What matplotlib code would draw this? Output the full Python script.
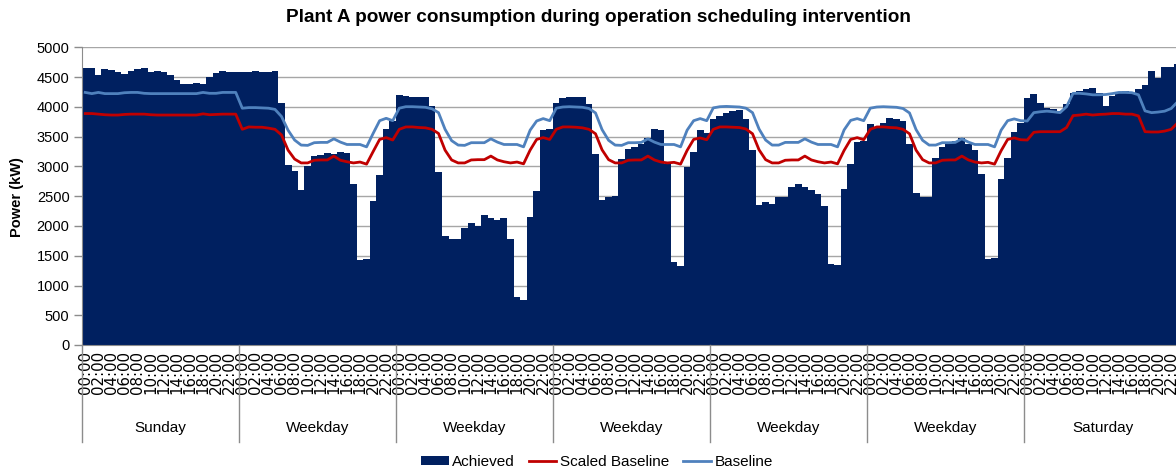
import numpy as np
import matplotlib
matplotlib.use("Agg")
import matplotlib.pyplot as plt
from matplotlib.patches import Patch
from matplotlib.lines import Line2D
import matplotlib.transforms as mtransforms

plt.rcParams['font.family'] = ['Liberation Sans', 'DejaVu Sans']

# ---------------- data ----------------
day_names = ["Sunday", "Weekday", "Weekday", "Weekday", "Weekday", "Weekday", "Saturday"]
hour_labels = ["00:00", "02:00", "04:00", "06:00", "08:00", "10:00",
               "12:00", "14:00", "16:00", "18:00", "20:00", "22:00"]

achieved_sun = [4650, 4650, 4545, 4635, 4615, 4585, 4560, 4610, 4635, 4650, 4590, 4610,
                4590, 4535, 4455, 4385, 4385, 4400, 4385, 4500, 4575, 4600, 4590, 4585]
achieved_wd1 = [4585, 4590, 4600, 4590, 4585, 4600, 4075, 3020, 2920, 2605, 3010, 3180,
                3200, 3230, 3210, 3245, 3230, 2700, 1430, 1450, 2425, 2855, 3630, 3765]
achieved_wd2 = [4200, 4190, 4175, 4165, 4165, 4015, 2910, 1830, 1780, 1780, 1965, 2055,
                2000, 2190, 2135, 2105, 2135, 1780, 800, 755, 2150, 2590, 3620, 3630]
achieved_wd3 = [4075, 4145, 4175, 4175, 4175, 4050, 3215, 2435, 2480, 2510, 3130, 3295,
                3320, 3375, 3485, 3630, 3615, 3050, 1390, 1330, 2995, 3240, 3610, 3560]
achieved_wd4 = [3805, 3855, 3905, 3940, 3950, 3805, 3280, 2355, 2395, 2365, 2480, 2480,
                2655, 2700, 2655, 2600, 2545, 2335, 1365, 1345, 2625, 3035, 3420, 3425]
achieved_wd5 = [3710, 3650, 3735, 3810, 3790, 3765, 3370, 2555, 2490, 2490, 3135, 3320,
                3390, 3425, 3485, 3375, 3275, 2870, 1450, 1465, 2785, 3145, 3585, 3725]
achieved_sat = [4145, 4220, 4075, 3990, 3965, 3940, 4045, 4240, 4270, 4300, 4315, 4230,
                4020, 4190, 4240, 4275, 4240, 4300, 4365, 4610, 4480, 4670, 4670, 4715]

baseline_sun = [4245, 4225, 4245, 4225, 4225, 4225, 4240, 4245, 4245, 4230, 4225, 4225,
                4225, 4225, 4225, 4225, 4225, 4225, 4245, 4230, 4230, 4245, 4245, 4245]
baseline_wd1 = [3980, 3990, 3990, 3985, 3980, 3960, 3840, 3610, 3445, 3360, 3355, 3400,
                3405, 3405, 3465, 3410, 3370, 3370, 3370, 3330, 3555, 3770, 3810, 3770]
baseline_wd2 = [3980, 4005, 4005, 4000, 3995, 3970, 3905, 3625, 3435, 3360, 3355, 3400,
                3400, 3400, 3465, 3410, 3370, 3370, 3370, 3330, 3610, 3765, 3805, 3770]
baseline_wd3 = [3980, 4000, 4005, 4000, 3995, 3975, 3900, 3620, 3440, 3360, 3355, 3400,
                3400, 3405, 3465, 3410, 3370, 3370, 3370, 3330, 3610, 3770, 3805, 3770]
baseline_wd4 = [3985, 4005, 4010, 4005, 4000, 3980, 3905, 3630, 3445, 3360, 3360, 3405,
                3405, 3405, 3465, 3410, 3370, 3370, 3370, 3330, 3615, 3775, 3805, 3770]
baseline_wd5 = [3980, 4000, 4005, 4000, 3995, 3975, 3900, 3620, 3440, 3360, 3360, 3400,
                3400, 3405, 3465, 3410, 3370, 3370, 3370, 3330, 3610, 3770, 3800, 3770]
baseline_sat = [3765, 3905, 3920, 3930, 3920, 3905, 4005, 4230, 4230, 4220, 4205, 4205,
                4210, 4225, 4245, 4245, 4240, 4205, 3935, 3905, 3915, 3930, 3975, 4090]

scaled_sun = [3890, 3890, 3880, 3870, 3865, 3865, 3875, 3880, 3880, 3880, 3870, 3865,
              3865, 3865, 3865, 3865, 3865, 3865, 3885, 3870, 3875, 3880, 3880, 3880]
scaled_wd1 = [3625, 3665, 3660, 3660, 3645, 3625, 3530, 3275, 3125, 3060, 3060, 3105,
              3110, 3110, 3175, 3105, 3080, 3060, 3075, 3040, 3250, 3455, 3485, 3445]
scaled_wd2 = [3625, 3665, 3665, 3655, 3650, 3625, 3555, 3275, 3110, 3060, 3060, 3110,
              3115, 3115, 3175, 3110, 3080, 3060, 3075, 3045, 3275, 3455, 3485, 3455]
scaled_wd3 = [3625, 3665, 3665, 3660, 3650, 3625, 3550, 3280, 3115, 3060, 3060, 3105,
              3110, 3110, 3175, 3110, 3075, 3060, 3070, 3040, 3270, 3455, 3480, 3450]
scaled_wd4 = [3625, 3665, 3665, 3660, 3655, 3630, 3550, 3280, 3115, 3060, 3060, 3105,
              3110, 3110, 3175, 3110, 3080, 3060, 3075, 3045, 3270, 3455, 3485, 3450]
scaled_wd5 = [3625, 3665, 3665, 3655, 3650, 3625, 3550, 3275, 3115, 3060, 3060, 3105,
              3110, 3110, 3175, 3110, 3075, 3060, 3070, 3040, 3265, 3455, 3480, 3450]
scaled_sat = [3445, 3575, 3585, 3585, 3585, 3585, 3655, 3855, 3865, 3880, 3865, 3875,
              3880, 3890, 3890, 3880, 3880, 3850, 3585, 3580, 3580, 3595, 3625, 3735]

achieved = np.concatenate([achieved_sun, achieved_wd1, achieved_wd2, achieved_wd3,
                           achieved_wd4, achieved_wd5, achieved_sat])
baseline = np.concatenate([baseline_sun, baseline_wd1, baseline_wd2, baseline_wd3,
                           baseline_wd4, baseline_wd5, baseline_sat])
scaled = np.concatenate([scaled_sun, scaled_wd1, scaled_wd2, scaled_wd3,
                         scaled_wd4, scaled_wd5, scaled_sat])

# ---------------- styling ----------------
NAVY = '#002060'
RED = '#C00000'
BLUE = '#4F81BD'
GRID = '#A6A6A6'
AXIS = '#8C8C8C'

W, H = 1176, 472
fig = plt.figure(figsize=(W / 100, H / 100), dpi=100)
ax = fig.add_axes([82 / W, (H - 345) / H, 1099 / W, 297.5 / H])

x = np.arange(len(achieved))
ax.bar(x, achieved, width=1.06, color=NAVY, edgecolor='none', linewidth=0,
       antialiased=False, zorder=2)
ax.plot(x, scaled, color=RED, lw=2.0, zorder=3, solid_joinstyle='round')
ax.plot(x, baseline, color=BLUE, lw=2.0, zorder=3, solid_joinstyle='round')

ax.set_xlim(-0.5, len(achieved) - 0.5)
ax.set_ylim(0, 5000)
ax.set_yticks(np.arange(0, 5001, 500))
ax.tick_params(axis='y', labelsize=10.5, length=6, color=AXIS, width=1, pad=3,
               labelcolor='#000000')
ax.yaxis.grid(True, color=GRID, lw=1.0)
ax.set_axisbelow(True)

for s in ['top', 'right']:
    ax.spines[s].set_visible(False)
ax.spines['left'].set_color(AXIS)
ax.spines['bottom'].set_color(AXIS)
ax.spines['left'].set_zorder(4)

ndays = len(day_names)
ticks = [d * 24 + h * 2 for d in range(ndays) for h in range(len(hour_labels))]
labels = [lab for d in range(ndays) for lab in hour_labels]
ax.set_xticks(ticks)
ax.set_xticklabels(labels, rotation=90, fontsize=10.8, family=['DejaVu Sans'])
ax.tick_params(axis='x', length=0, pad=4)

trans = mtransforms.blended_transform_factory(ax.transData, ax.transAxes)
for d in range(ndays + 1):
    xb = d * 24 - 0.5
    ax.plot([xb, xb], [0, -0.327], transform=trans, color=AXIS, lw=1, clip_on=False)
for d, name in enumerate(day_names):
    ax.text(d * 24 + 11.5, -0.279, name, transform=trans, ha='center', va='center',
            fontsize=11)

fig.text(598 / W, 1 - 18 / H, 'Plant A power consumption during operation scheduling intervention',
         ha='center', va='center', fontsize=13.7, fontweight='bold')
fig.text(17 / W, 1 - 197 / H, 'Power (kW)', rotation=90, ha='center', va='center',
         fontsize=10.5, fontweight='bold')

handles = [Patch(facecolor=NAVY, edgecolor='none'),
           Line2D([0], [0], color=RED, lw=2.0),
           Line2D([0], [0], color=BLUE, lw=2.0)]
fig.legend(handles, ['Achieved', 'Scaled Baseline', 'Baseline'], loc='center',
           bbox_to_anchor=(597 / W, 10 / H), ncol=3, frameon=False, fontsize=11,
           handlelength=1.8, handletextpad=0.25, columnspacing=0.9, handleheight=0.55)

fig.savefig('out.png', dpi=100)
